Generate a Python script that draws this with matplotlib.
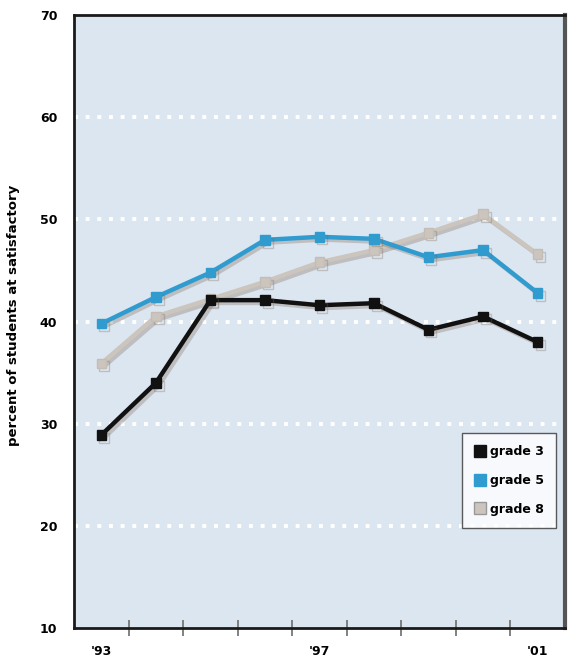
import numpy as np
import matplotlib
matplotlib.use("Agg")
import matplotlib.pyplot as plt
import matplotlib.patheffects as pe
from matplotlib.lines import Line2D

# school years 1993 .. 2001
years = [1993, 1994, 1995, 1996, 1997, 1998, 1999, 2000, 2001]
grade3 = [28.9, 34.0, 42.1, 42.1, 41.6, 41.8, 39.2, 40.5, 38.0]
grade5 = [39.8, 42.4, 44.8, 48.0, 48.3, 48.1, 46.3, 47.0, 42.8]
grade8 = [35.9, 40.5, 42.2, 43.9, 45.8, 47.0, 48.7, 50.5, 46.6]

year_labels = {1993: "'93", 1997: "'97", 2001: "'01"}
y_ticks = [10, 20, 30, 40, 50, 60, 70]

bold_font = ['Liberation Sans Narrow', 'DejaVu Sans']

fig = plt.figure(figsize=(5.7, 6.59), dpi=100)
ax = fig.add_axes([0.130, 0.047, 0.861, 0.930])
ax.set_facecolor('#dce6f1')

ax.set_xlim(years[0] - 0.5, years[-1] + 0.5)
ax.set_ylim(10, 70)

# dotted white guide lines
for v in y_ticks[1:-1]:
    ax.axhline(v, color='white', lw=2.8, ls=(0, (1, 2.0)), zorder=1)

shadow = [pe.SimpleLineShadow(offset=(2, -2), shadow_color='#7a6450', alpha=0.3),
          pe.Normal()]

ax.plot(years, grade8, color='#cbc5be', lw=3.2, marker='s', ms=7,
        mec='#c4bdb5', zorder=3, path_effects=shadow)
ax.plot(years, grade5, color='#2f9bcf', lw=3.2, marker='s', ms=7,
        zorder=4, path_effects=shadow)
ax.plot(years, grade3, color='#111111', lw=3.2, marker='s', ms=7,
        zorder=5, path_effects=shadow)

# ticks between years, labels under selected years
ax.set_xticks([y + 0.5 for y in years[:-1]], minor=True)
ax.tick_params(axis='x', which='minor', direction='inout', length=11,
               width=1.3, color='#777777')
ax.set_xticks(list(year_labels.keys()))
ax.set_xticklabels(list(year_labels.values()), family=bold_font,
                   fontweight='bold', fontsize=9)
ax.tick_params(axis='x', which='major', length=0, pad=12)

ax.set_yticks(y_ticks)
ax.set_yticklabels([str(v) for v in y_ticks], family=bold_font,
                   fontweight='bold', fontsize=9)
ax.tick_params(axis='y', length=0, pad=12)

ax.set_ylabel('percent of students at satisfactory', fontsize=9.5,
              fontweight='bold')
ax.yaxis.set_label_coords(-0.11, 0.51)

for side in ['left', 'bottom', 'top']:
    ax.spines[side].set_color('#1a1a1a')
    ax.spines[side].set_linewidth(2)
ax.spines['right'].set_color('#555555')
ax.spines['right'].set_linewidth(3)

handles = [
    Line2D([], [], ls='none', marker='s', ms=9, color='#111111'),
    Line2D([], [], ls='none', marker='s', ms=9, color='#2f9bcf'),
    Line2D([], [], ls='none', marker='s', ms=9, color='#cbc5be', mec='#999999'),
]
leg = ax.legend(handles, ['grade 3', 'grade 5', 'grade 8'],
                loc='lower right', bbox_to_anchor=(0.982, 0.163),
                frameon=True, fancybox=False, handlelength=0.8,
                handletextpad=0.4, labelspacing=1.25, borderpad=1.0,
                borderaxespad=0,
                prop={'family': bold_font, 'weight': 'bold', 'size': 9})
leg.get_frame().set_edgecolor('#333333')
leg.get_frame().set_linewidth(1)

fig.savefig('out.png', dpi=100)
